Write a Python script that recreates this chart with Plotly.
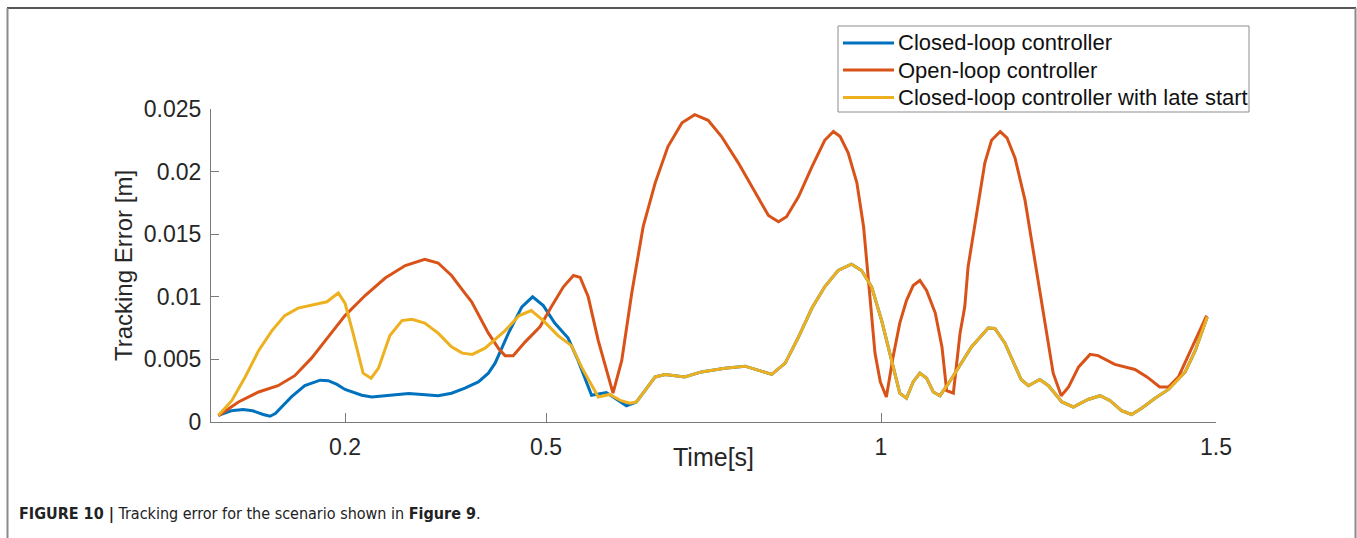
import plotly.graph_objects as go

# ---------------- data ----------------
t_closed = [0.011, 0.030, 0.048, 0.062, 0.078, 0.088, 0.096, 0.108, 0.120, 0.140, 0.163, 0.175,
            0.188, 0.200, 0.225, 0.240, 0.265, 0.295, 0.315, 0.339, 0.359, 0.379, 0.399, 0.414,
            0.424, 0.444, 0.464, 0.480, 0.496, 0.513, 0.533, 0.548, 0.568, 0.590, 0.603, 0.620,
            0.635, 0.663, 0.678, 0.707, 0.732, 0.752, 0.767, 0.797, 0.817, 0.837, 0.857, 0.877,
            0.897, 0.916, 0.936, 0.956, 0.971, 0.986, 1.001, 1.016, 1.028, 1.038, 1.048, 1.058,
            1.068, 1.078, 1.088, 1.101, 1.116, 1.135, 1.160, 1.170, 1.185, 1.209, 1.220, 1.237,
            1.250, 1.270, 1.287, 1.309, 1.327, 1.342, 1.359, 1.374, 1.389, 1.409, 1.429, 1.454,
            1.469, 1.487]
e_closed = [0.00054, 0.0009, 0.00099, 0.0009, 0.0006, 0.00046, 0.00067, 0.0013, 0.0020, 0.0029,
            0.00334, 0.0033, 0.0030, 0.0026, 0.00214, 0.0020, 0.0021, 0.00227, 0.0022, 0.0021,
            0.0023, 0.0027, 0.0032, 0.0039, 0.0047, 0.0071, 0.0092, 0.0100, 0.0093, 0.0079,
            0.0067, 0.0049, 0.00214, 0.00235, 0.0019, 0.0013, 0.0016, 0.0036, 0.0038, 0.0036,
            0.0040, 0.0042, 0.0043, 0.00446, 0.0041, 0.0038, 0.0047, 0.0068, 0.0091, 0.0108,
            0.0121, 0.0126, 0.0121, 0.0108, 0.0081, 0.0049, 0.0023, 0.0019, 0.0032, 0.0039,
            0.0035, 0.0024, 0.0021, 0.0031, 0.0044, 0.0060, 0.0075, 0.00747, 0.0063, 0.0034,
            0.0029, 0.0034, 0.0029, 0.0016, 0.0012, 0.0018, 0.0021, 0.0017, 0.0009, 0.0006,
            0.0011, 0.0019, 0.0026, 0.0040, 0.0057, 0.0084]

t_open = [0.011, 0.041, 0.071, 0.100, 0.125, 0.150, 0.175, 0.200, 0.230, 0.260, 0.290, 0.319,
          0.339, 0.359, 0.376, 0.389, 0.414, 0.430, 0.439, 0.451, 0.469, 0.491, 0.508, 0.526,
          0.541, 0.551, 0.563, 0.578, 0.600, 0.613, 0.628, 0.645, 0.663, 0.682, 0.703, 0.722,
          0.742, 0.762, 0.787, 0.812, 0.832, 0.847, 0.859, 0.877, 0.897, 0.916, 0.929, 0.939,
          0.951, 0.964, 0.974, 0.984, 0.991, 0.999, 1.008, 1.018, 1.028, 1.038, 1.048, 1.058,
          1.068, 1.081, 1.091, 1.098, 1.108, 1.118, 1.125, 1.130, 1.140, 1.155, 1.165, 1.178,
          1.188, 1.200, 1.215, 1.230, 1.245, 1.257, 1.269, 1.280, 1.295, 1.312, 1.324, 1.349,
          1.379, 1.397, 1.416, 1.429, 1.444, 1.464, 1.486]
e_open = [0.0005, 0.0016, 0.0024, 0.0029, 0.0037, 0.0051, 0.0068, 0.0085, 0.0101, 0.0115,
          0.0125, 0.0130, 0.0127, 0.0117, 0.0105, 0.0096, 0.0071, 0.0058, 0.0053, 0.0053,
          0.0064, 0.0076, 0.0092, 0.0108, 0.0117, 0.01155, 0.0100, 0.0065, 0.0023, 0.0049,
          0.0103, 0.0156, 0.0191, 0.0220, 0.0239, 0.02455, 0.0241, 0.0228, 0.0207, 0.0183,
          0.0165, 0.0160, 0.0164, 0.0180, 0.0204, 0.0225, 0.0232, 0.0228, 0.0215, 0.0191,
          0.0156, 0.0097, 0.0055, 0.0032, 0.0020, 0.0052, 0.0079, 0.0097, 0.0109, 0.0113,
          0.0105, 0.0087, 0.0060, 0.0025, 0.0023, 0.0071, 0.0092, 0.0124, 0.0156, 0.0207,
          0.0225, 0.0232, 0.0227, 0.0211, 0.0177, 0.0129, 0.0079, 0.0039, 0.0021, 0.0028,
          0.0044, 0.0054, 0.0053, 0.0046, 0.0042, 0.0036, 0.0028, 0.0028, 0.0036, 0.0060,
          0.0085]

t_late = [0.011, 0.031, 0.051, 0.071, 0.091, 0.110, 0.130, 0.155, 0.173, 0.190, 0.200, 0.212,
          0.227, 0.239, 0.250, 0.267, 0.285, 0.300, 0.319, 0.339, 0.359, 0.375, 0.390, 0.409,
          0.439, 0.460, 0.478, 0.496, 0.518, 0.538, 0.553, 0.578, 0.595, 0.612, 0.625, 0.635,
          0.663, 0.678, 0.707, 0.732, 0.752, 0.767, 0.797, 0.817, 0.837, 0.857, 0.877, 0.897,
          0.916, 0.936, 0.956, 0.971, 0.986, 1.001, 1.016, 1.028, 1.038, 1.048, 1.058, 1.068,
          1.078, 1.088, 1.101, 1.116, 1.135, 1.160, 1.170, 1.185, 1.209, 1.220, 1.237, 1.250,
          1.270, 1.287, 1.309, 1.327, 1.342, 1.359, 1.374, 1.389, 1.409, 1.429, 1.454, 1.469,
          1.487]
e_late = [0.00054, 0.0017, 0.0036, 0.0057, 0.0073, 0.0085, 0.0091, 0.0094, 0.0096, 0.0103,
          0.0095, 0.0071, 0.0039, 0.0035, 0.0043, 0.0069, 0.0081, 0.0082, 0.0079, 0.0071,
          0.0060, 0.0055, 0.0054, 0.0059, 0.0073, 0.0085, 0.0089, 0.0081, 0.0069, 0.0061,
          0.0044, 0.0020, 0.0022, 0.0017, 0.0015, 0.0016, 0.0036, 0.0038, 0.0036, 0.0040,
          0.0042, 0.0043, 0.00446, 0.0041, 0.0038, 0.0047, 0.0068, 0.0091, 0.0108, 0.0121,
          0.0126, 0.0121, 0.0108, 0.0081, 0.0049, 0.0023, 0.0019, 0.0032, 0.0039, 0.0035,
          0.0024, 0.0021, 0.0031, 0.0044, 0.0060, 0.0075, 0.00747, 0.0063, 0.0034, 0.0029,
          0.0034, 0.0029, 0.0016, 0.0012, 0.0018, 0.0021, 0.0017, 0.0009, 0.0006, 0.0011,
          0.0019, 0.0026, 0.0040, 0.0057, 0.0084]

series_names = ["Closed-loop controller", "Open-loop controller",
                "Closed-loop controller with late start"]
series_colors = ["#0072BD", "#D95319", "#EDB120"]

x_tick_vals = [0.2, 0.5, 1, 1.5]
x_tick_text = ["0.2", "0.5", "1", "1.5"]
y_tick_vals = [0, 0.005, 0.01, 0.015, 0.02, 0.025]
y_tick_text = ["0", "0.005", "0.01", "0.015", "0.02", "0.025"]

# ---------------- figure ----------------
W, H = 1357, 538
L, R, T, B = 211, 141, 109, 116
pw, ph = W - L - R, H - T - B


def px_x(p):
    return (p - L) / pw


def px_y(p):
    return (H - B - p) / ph


fig = go.Figure()
for tx, ey, name, col in zip([t_closed, t_open, t_late], [e_closed, e_open, e_late],
                             series_names, series_colors):
    fig.add_trace(go.Scatter(x=tx, y=ey, mode="lines", name=name,
                             line=dict(color=col, width=3)))

font_main = "Liberation Sans, Arial, Helvetica, sans-serif"

fig.update_layout(
    width=W, height=H,
    margin=dict(l=L, r=R, t=T, b=B),
    paper_bgcolor="white", plot_bgcolor="white",
    font=dict(family=font_main, color="#262626", size=23),
    showlegend=False,
    xaxis=dict(
        range=[0, 1.5], tickvals=x_tick_vals, ticktext=x_tick_text,
        showgrid=False, zeroline=False, showline=True, linecolor="#7a7a7a", linewidth=1,
        ticks="inside", ticklen=9, tickcolor="#7a7a7a", tickwidth=1,
        tickfont=dict(size=23, color="#262626"), ticklabelstandoff=4,
    ),
    yaxis=dict(
        range=[0, 0.025], tickvals=y_tick_vals, ticktext=y_tick_text,
        showgrid=False, zeroline=False, showline=True, linecolor="#7a7a7a", linewidth=1,
        ticks="inside", ticklen=8, tickcolor="#7a7a7a", tickwidth=1,
        tickfont=dict(size=23, color="#262626"), ticklabelstandoff=4,
        title=dict(text="Tracking Error [m]", font=dict(size=24, color="#262626"), standoff=4),
    ),
)

# legend box (drawn to match the reference's compact MATLAB legend)
leg_x0, leg_x1, leg_y0, leg_y1 = 838, 1249, 26, 112
fig.add_shape(type="rect", xref="paper", yref="paper", x0=px_x(leg_x0), x1=px_x(leg_x1),
              y0=px_y(leg_y1), y1=px_y(leg_y0), line=dict(color="#8c8c8c", width=1),
              fillcolor="white", layer="above")
row_y = [43, 70, 97.5]
for name, col, ry in zip(series_names, series_colors, row_y):
    fig.add_shape(type="line", xref="paper", yref="paper", x0=px_x(843), x1=px_x(894),
                  y0=px_y(ry), y1=px_y(ry), line=dict(color=col, width=3), layer="above")
    fig.add_annotation(text=name, xref="paper", yref="paper", x=px_x(896), y=px_y(ry),
                       xanchor="left", yanchor="middle", showarrow=False,
                       font=dict(size=22, color="#111111", family=font_main))

# x-axis title (sits at the tick-label row, as in the reference)
fig.add_annotation(text="Time[s]", xref="paper", yref="paper", x=0.5, y=px_y(457),
                   xanchor="center", yanchor="middle", showarrow=False,
                   font=dict(size=25, color="#262626", family=font_main))

# figure frame
fig.add_shape(type="line", xref="paper", yref="paper", x0=px_x(7), x1=px_x(1356),
              y0=px_y(8), y1=px_y(8), line=dict(color="#555555", width=2))
fig.add_shape(type="line", xref="paper", yref="paper", x0=px_x(7.5), x1=px_x(7.5),
              y0=px_y(8), y1=px_y(545), line=dict(color="#8a8a8a", width=2))
fig.add_shape(type="line", xref="paper", yref="paper", x0=px_x(1355.5), x1=px_x(1355.5),
              y0=px_y(8), y1=px_y(545), line=dict(color="#8a8a8a", width=2))

# caption
fig.add_annotation(
    text="<b>FIGURE 10 |</b> Tracking error for the scenario shown in <b>Figure 9</b>.",
    xref="paper", yref="paper", x=px_x(17), y=px_y(514), xanchor="left", yanchor="middle",
    showarrow=False,
    font=dict(size=16, color="#222222",
              family="Liberation Sans Narrow, DejaVu Sans Condensed, Arial Narrow, sans-serif"))

fig.write_html("out.html")
